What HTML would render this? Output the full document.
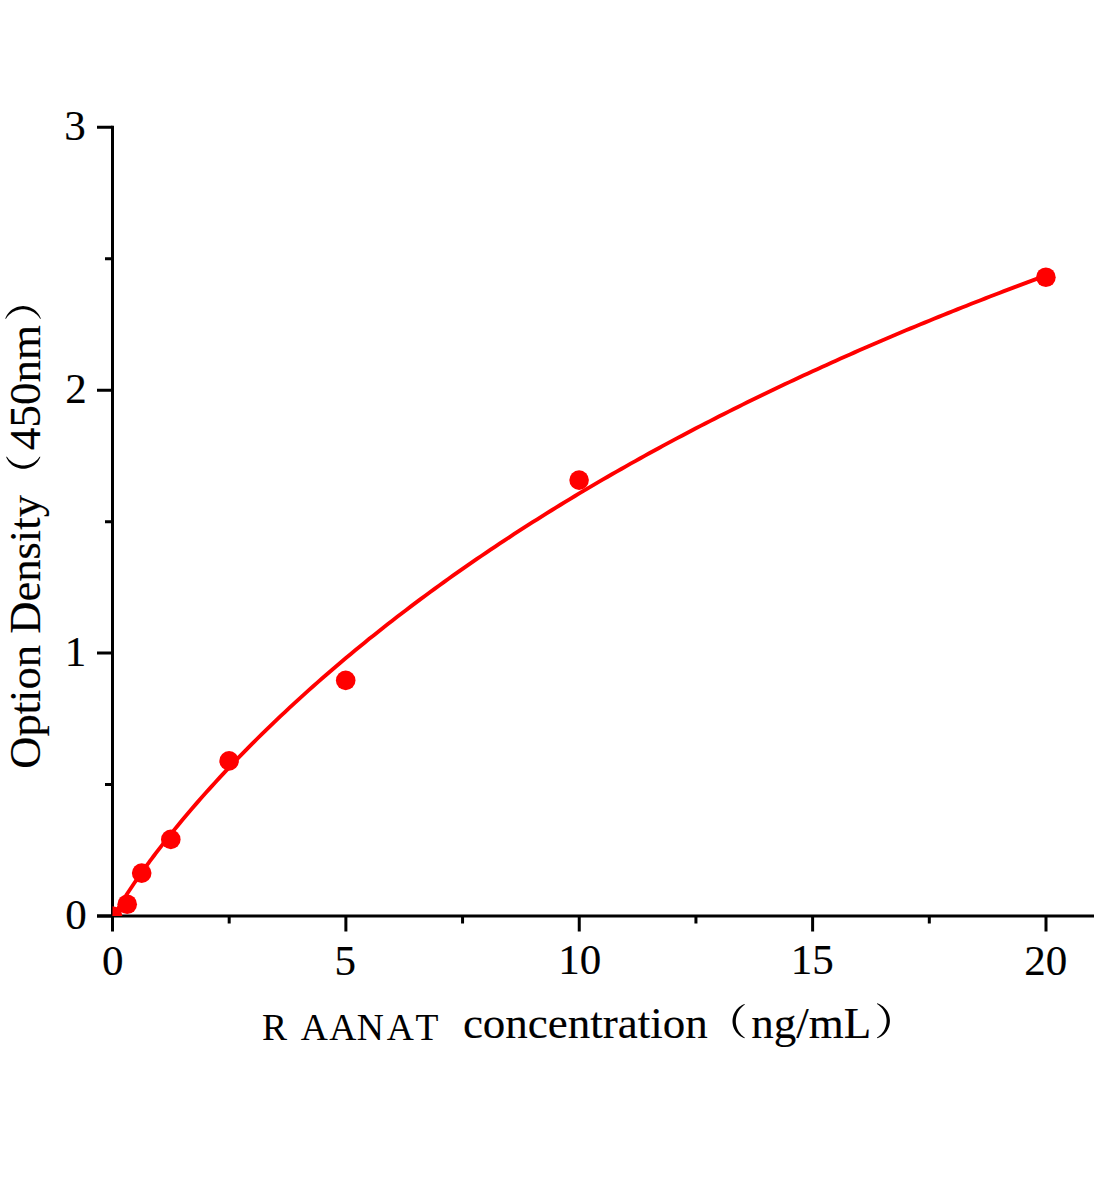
<!DOCTYPE html>
<html><head><meta charset="utf-8"><style>
html,body{margin:0;padding:0;background:#fff;overflow:hidden;}
svg{display:block;}
text{font-family:"Liberation Serif",serif;fill:#000;stroke:#000;stroke-width:0.15;}
</style></head><body>
<svg width="1104" height="1200" viewBox="0 0 1104 1200">
<defs><clipPath id="pa"><rect x="112.5" y="0" width="1000" height="916.0"/></clipPath></defs>
<g stroke="#000" stroke-width="3" fill="none">
<path d="M112.5,125.80 V931.50"/>
<path d="M97.00,916.0 H1094"/>
<path d="M97.00,916.00 H112.50 M97.00,653.10 H112.50 M97.00,390.20 H112.50 M97.00,127.30 H112.50 M105.00,784.55 H112.50 M105.00,521.65 H112.50 M105.00,258.75 H112.50 M345.88,916.00 V931.50 M579.25,916.00 V931.50 M812.62,916.00 V931.50 M1046.00,916.00 V931.50 M229.19,916.00 V923.50 M462.56,916.00 V923.50 M695.94,916.00 V923.50 M929.31,916.00 V923.50"/>
</g>
<g clip-path="url(#pa)">
<polyline points="112.50,919.79 113.67,917.06 114.83,914.71 116.00,912.50 117.17,910.38 118.33,908.31 119.50,906.30 120.67,904.32 121.83,902.38 123.00,900.47 124.17,898.59 125.34,896.73 126.50,894.89 127.67,893.07 128.84,891.28 130.00,889.49 131.17,887.73 132.34,885.98 133.50,884.25 134.67,882.53 135.84,880.82 137.00,879.13 138.17,877.45 139.34,875.78 140.50,874.12 141.67,872.47 142.84,870.83 144.01,869.21 145.17,867.59 146.34,865.98 147.51,864.38 148.67,862.79 149.84,861.21 151.01,859.64 152.17,858.07 153.34,856.52 154.51,854.97 155.67,853.43 156.84,851.89 158.01,850.37 159.18,848.85 163.84,842.84 168.51,836.94 173.18,831.13 177.84,825.41 182.51,819.78 187.18,814.24 191.85,808.77 196.51,803.37 201.18,798.04 205.85,792.78 210.52,787.59 215.19,782.45 219.85,777.38 224.52,772.37 229.19,767.41 233.85,762.51 238.52,757.66 243.19,752.86 247.86,748.11 252.52,743.41 257.19,738.76 261.86,734.15 266.53,729.59 271.19,725.07 275.86,720.60 280.53,716.17 285.20,711.78 289.87,707.42 294.53,703.11 299.20,698.84 303.87,694.60 308.53,690.40 313.20,686.24 317.87,682.11 322.54,678.02 327.20,673.96 331.87,669.94 336.54,665.94 341.21,661.98 345.88,658.05 350.54,654.16 355.21,650.29 359.88,646.46 364.54,642.65 369.21,638.87 373.88,635.13 378.55,631.41 383.22,627.71 387.88,624.05 392.55,620.41 397.22,616.80 401.88,613.22 406.55,609.66 411.22,606.13 415.89,602.62 420.56,599.14 425.22,595.68 429.89,592.24 434.56,588.83 439.22,585.45 443.89,582.08 448.56,578.74 453.23,575.43 457.89,572.13 462.56,568.86 467.23,565.60 471.90,562.37 476.56,559.16 481.23,555.98 485.90,552.81 490.57,549.66 495.23,546.53 499.90,543.43 504.57,540.34 509.24,537.27 513.90,534.22 518.57,531.19 523.24,528.18 527.91,525.19 532.58,522.22 537.24,519.26 541.91,516.32 546.58,513.40 551.25,510.50 555.91,507.62 560.58,504.75 565.25,501.90 569.91,499.06 574.58,496.25 579.25,493.45 583.92,490.66 588.59,487.89 593.25,485.14 597.92,482.41 602.59,479.69 607.26,476.98 611.92,474.29 616.59,471.62 621.26,468.96 625.92,466.31 630.59,463.68 635.26,461.07 639.93,458.47 644.60,455.88 649.26,453.31 653.93,450.75 658.60,448.20 663.26,445.67 667.93,443.16 672.60,440.65 677.27,438.16 681.94,435.69 686.60,433.22 691.27,430.77 695.94,428.33 700.61,425.91 705.27,423.50 709.94,421.10 714.61,418.71 719.27,416.33 723.94,413.97 728.61,411.62 733.28,409.28 737.94,406.96 742.61,404.64 747.28,402.34 751.95,400.05 756.62,397.77 761.28,395.50 765.95,393.24 770.62,390.99 775.28,388.76 779.95,386.54 784.62,384.32 789.29,382.12 793.96,379.93 798.62,377.75 803.29,375.58 807.96,373.42 812.62,371.27 817.29,369.13 821.96,367.00 826.63,364.88 831.29,362.77 835.96,360.67 840.63,358.59 845.30,356.51 849.97,354.44 854.63,352.38 859.30,350.33 863.97,348.29 868.64,346.26 873.30,344.24 877.97,342.22 882.64,340.22 887.31,338.23 891.97,336.24 896.64,334.27 901.31,332.30 905.97,330.34 910.64,328.39 915.31,326.45 919.98,324.52 924.65,322.60 929.31,320.68 933.98,318.78 938.65,316.88 943.31,314.99 947.98,313.11 952.65,311.24 957.32,309.37 961.98,307.52 966.65,305.67 971.32,303.83 975.99,302.00 980.65,300.17 985.32,298.36 989.99,296.55 994.66,294.75 999.32,292.95 1003.99,291.17 1008.66,289.39 1013.33,287.62 1018.00,285.86 1022.66,284.10 1027.33,282.35 1032.00,280.61 1036.66,278.88 1041.33,277.15 1046.00,275.43" fill="none" stroke="#f00" stroke-width="3.85" stroke-linejoin="round"/>
<g fill="#f00">
<circle cx="112.5" cy="916.0" r="9.8"/>
<circle cx="127.2" cy="904.3" r="9.8"/>
<circle cx="141.7" cy="873.1" r="9.8"/>
<circle cx="170.8" cy="839.4" r="9.8"/>
<circle cx="229.1" cy="760.9" r="9.8"/>
<circle cx="345.7" cy="680.4" r="9.8"/>
<circle cx="579.1" cy="480.1" r="9.8"/>
<circle cx="1045.9" cy="277.2" r="9.8"/>
</g>
</g>
<g font-size="43" text-anchor="end">
<text x="85.75" y="139.8">3</text>
<text x="86.7" y="402.8">2</text>
<text x="86.15" y="666.0">1</text>
<text x="86.85" y="928.6">0</text>
</g>
<g font-size="43" text-anchor="middle">
<text x="112.75" y="974.5">0</text>
<text x="345.3" y="974.7">5</text>
<text x="579.85" y="974.4">10</text>
<text x="812.3" y="974.2">15</text>
<text x="1045.65" y="974.8">20</text>
</g>
<text x="262.1 300.8 329.3 356.7 386.7 415.45" y="1039.9" font-size="37.5" style="stroke-width:0.05">RAANAT</text>
<text x="462.9" y="1037.9" font-size="45">concentration</text>
<text x="751.2" y="1038.0" font-size="45">ng/mL</text>
<text transform="translate(39.5,768.8) rotate(-90)" font-size="44.6">Option Density</text>
<text transform="translate(39.6,449.9) rotate(-90)" font-size="45">450nm</text>
<g fill="#000">
<path d="M744.70,1004.00 L743.21,1004.59 L741.78,1005.31 L740.42,1006.16 L739.13,1007.12 L737.94,1008.19 L736.85,1009.36 L735.86,1010.63 L734.99,1011.97 L734.24,1013.39 L733.62,1014.87 L733.13,1016.40 L732.78,1017.96 L732.57,1019.55 L732.50,1021.15 L732.57,1022.75 L732.78,1024.34 L733.13,1025.90 L733.62,1027.43 L734.24,1028.91 L734.99,1030.33 L735.86,1031.67 L736.85,1032.94 L737.94,1034.11 L739.13,1035.18 L740.42,1036.14 L741.78,1036.99 L743.21,1037.71 L744.70,1038.30 L744.70,1037.50 L743.56,1036.71 L742.49,1035.83 L741.47,1034.89 L740.53,1033.87 L739.66,1032.79 L738.87,1031.65 L738.17,1030.46 L737.55,1029.22 L737.02,1027.94 L736.58,1026.62 L736.24,1025.28 L736.00,1023.91 L735.85,1022.54 L735.80,1021.15 L735.85,1019.76 L736.00,1018.39 L736.24,1017.02 L736.58,1015.68 L737.02,1014.36 L737.55,1013.08 L738.17,1011.84 L738.87,1010.65 L739.66,1009.51 L740.53,1008.43 L741.47,1007.41 L742.49,1006.47 L743.56,1005.59 L744.70,1004.80Z"/><path d="M877.00,1003.30 L878.56,1003.86 L880.07,1004.57 L881.51,1005.40 L882.86,1006.36 L884.12,1007.45 L885.28,1008.64 L886.33,1009.93 L887.25,1011.31 L888.05,1012.77 L888.71,1014.30 L889.23,1015.87 L889.60,1017.49 L889.82,1019.14 L889.90,1020.80 L889.82,1022.46 L889.60,1024.11 L889.23,1025.73 L888.71,1027.30 L888.05,1028.83 L887.25,1030.29 L886.33,1031.67 L885.28,1032.96 L884.12,1034.15 L882.86,1035.24 L881.51,1036.20 L880.07,1037.03 L878.56,1037.74 L877.00,1038.30 L877.00,1037.50 L878.22,1036.73 L879.37,1035.87 L880.46,1034.93 L881.48,1033.91 L882.41,1032.81 L883.27,1031.65 L884.03,1030.43 L884.70,1029.16 L885.27,1027.84 L885.75,1026.48 L886.12,1025.09 L886.39,1023.67 L886.55,1022.24 L886.60,1020.80 L886.55,1019.36 L886.39,1017.93 L886.12,1016.51 L885.75,1015.12 L885.27,1013.76 L884.70,1012.44 L884.03,1011.17 L883.27,1009.95 L882.41,1008.79 L881.48,1007.69 L880.46,1006.67 L879.37,1005.73 L878.22,1004.87 L877.00,1004.10Z"/><path d="M5.20,318.70 L5.83,317.16 L6.58,315.68 L7.47,314.27 L8.47,312.95 L9.59,311.71 L10.81,310.58 L12.13,309.57 L13.52,308.67 L15.00,307.90 L16.53,307.26 L18.12,306.75 L19.74,306.39 L21.39,306.17 L23.05,306.10 L24.71,306.17 L26.36,306.39 L27.98,306.75 L29.57,307.26 L31.10,307.90 L32.58,308.67 L33.97,309.57 L35.29,310.58 L36.51,311.71 L37.63,312.95 L38.63,314.27 L39.52,315.68 L40.27,317.16 L40.90,318.70 L40.10,318.70 L39.28,317.50 L38.38,316.37 L37.40,315.30 L36.34,314.30 L35.22,313.38 L34.03,312.55 L32.78,311.81 L31.49,311.15 L30.15,310.59 L28.78,310.13 L27.37,309.77 L25.94,309.51 L24.50,309.35 L23.05,309.30 L21.60,309.35 L20.16,309.51 L18.73,309.77 L17.32,310.13 L15.95,310.59 L14.61,311.15 L13.32,311.81 L12.07,312.55 L10.88,313.38 L9.76,314.30 L8.70,315.30 L7.72,316.37 L6.82,317.50 L6.00,318.70Z"/><path d="M6.10,456.70 L6.71,458.17 L7.45,459.58 L8.30,460.92 L9.27,462.19 L10.35,463.36 L11.52,464.43 L12.78,465.40 L14.13,466.26 L15.54,466.99 L17.01,467.60 L18.53,468.08 L20.08,468.42 L21.66,468.63 L23.25,468.70 L24.84,468.63 L26.42,468.42 L27.97,468.08 L29.49,467.60 L30.96,466.99 L32.37,466.26 L33.72,465.40 L34.98,464.43 L36.15,463.36 L37.23,462.19 L38.20,460.92 L39.05,459.58 L39.79,458.17 L40.40,456.70 L39.60,456.70 L38.80,457.83 L37.92,458.89 L36.97,459.89 L35.95,460.83 L34.87,461.68 L33.73,462.46 L32.53,463.16 L31.30,463.77 L30.02,464.29 L28.70,464.73 L27.36,465.06 L26.00,465.31 L24.63,465.45 L23.25,465.50 L21.87,465.45 L20.50,465.31 L19.14,465.06 L17.80,464.73 L16.48,464.29 L15.20,463.77 L13.97,463.16 L12.77,462.46 L11.63,461.68 L10.55,460.83 L9.53,459.89 L8.58,458.89 L7.70,457.83 L6.90,456.70Z"/>
</g>
</svg>
</body></html>
